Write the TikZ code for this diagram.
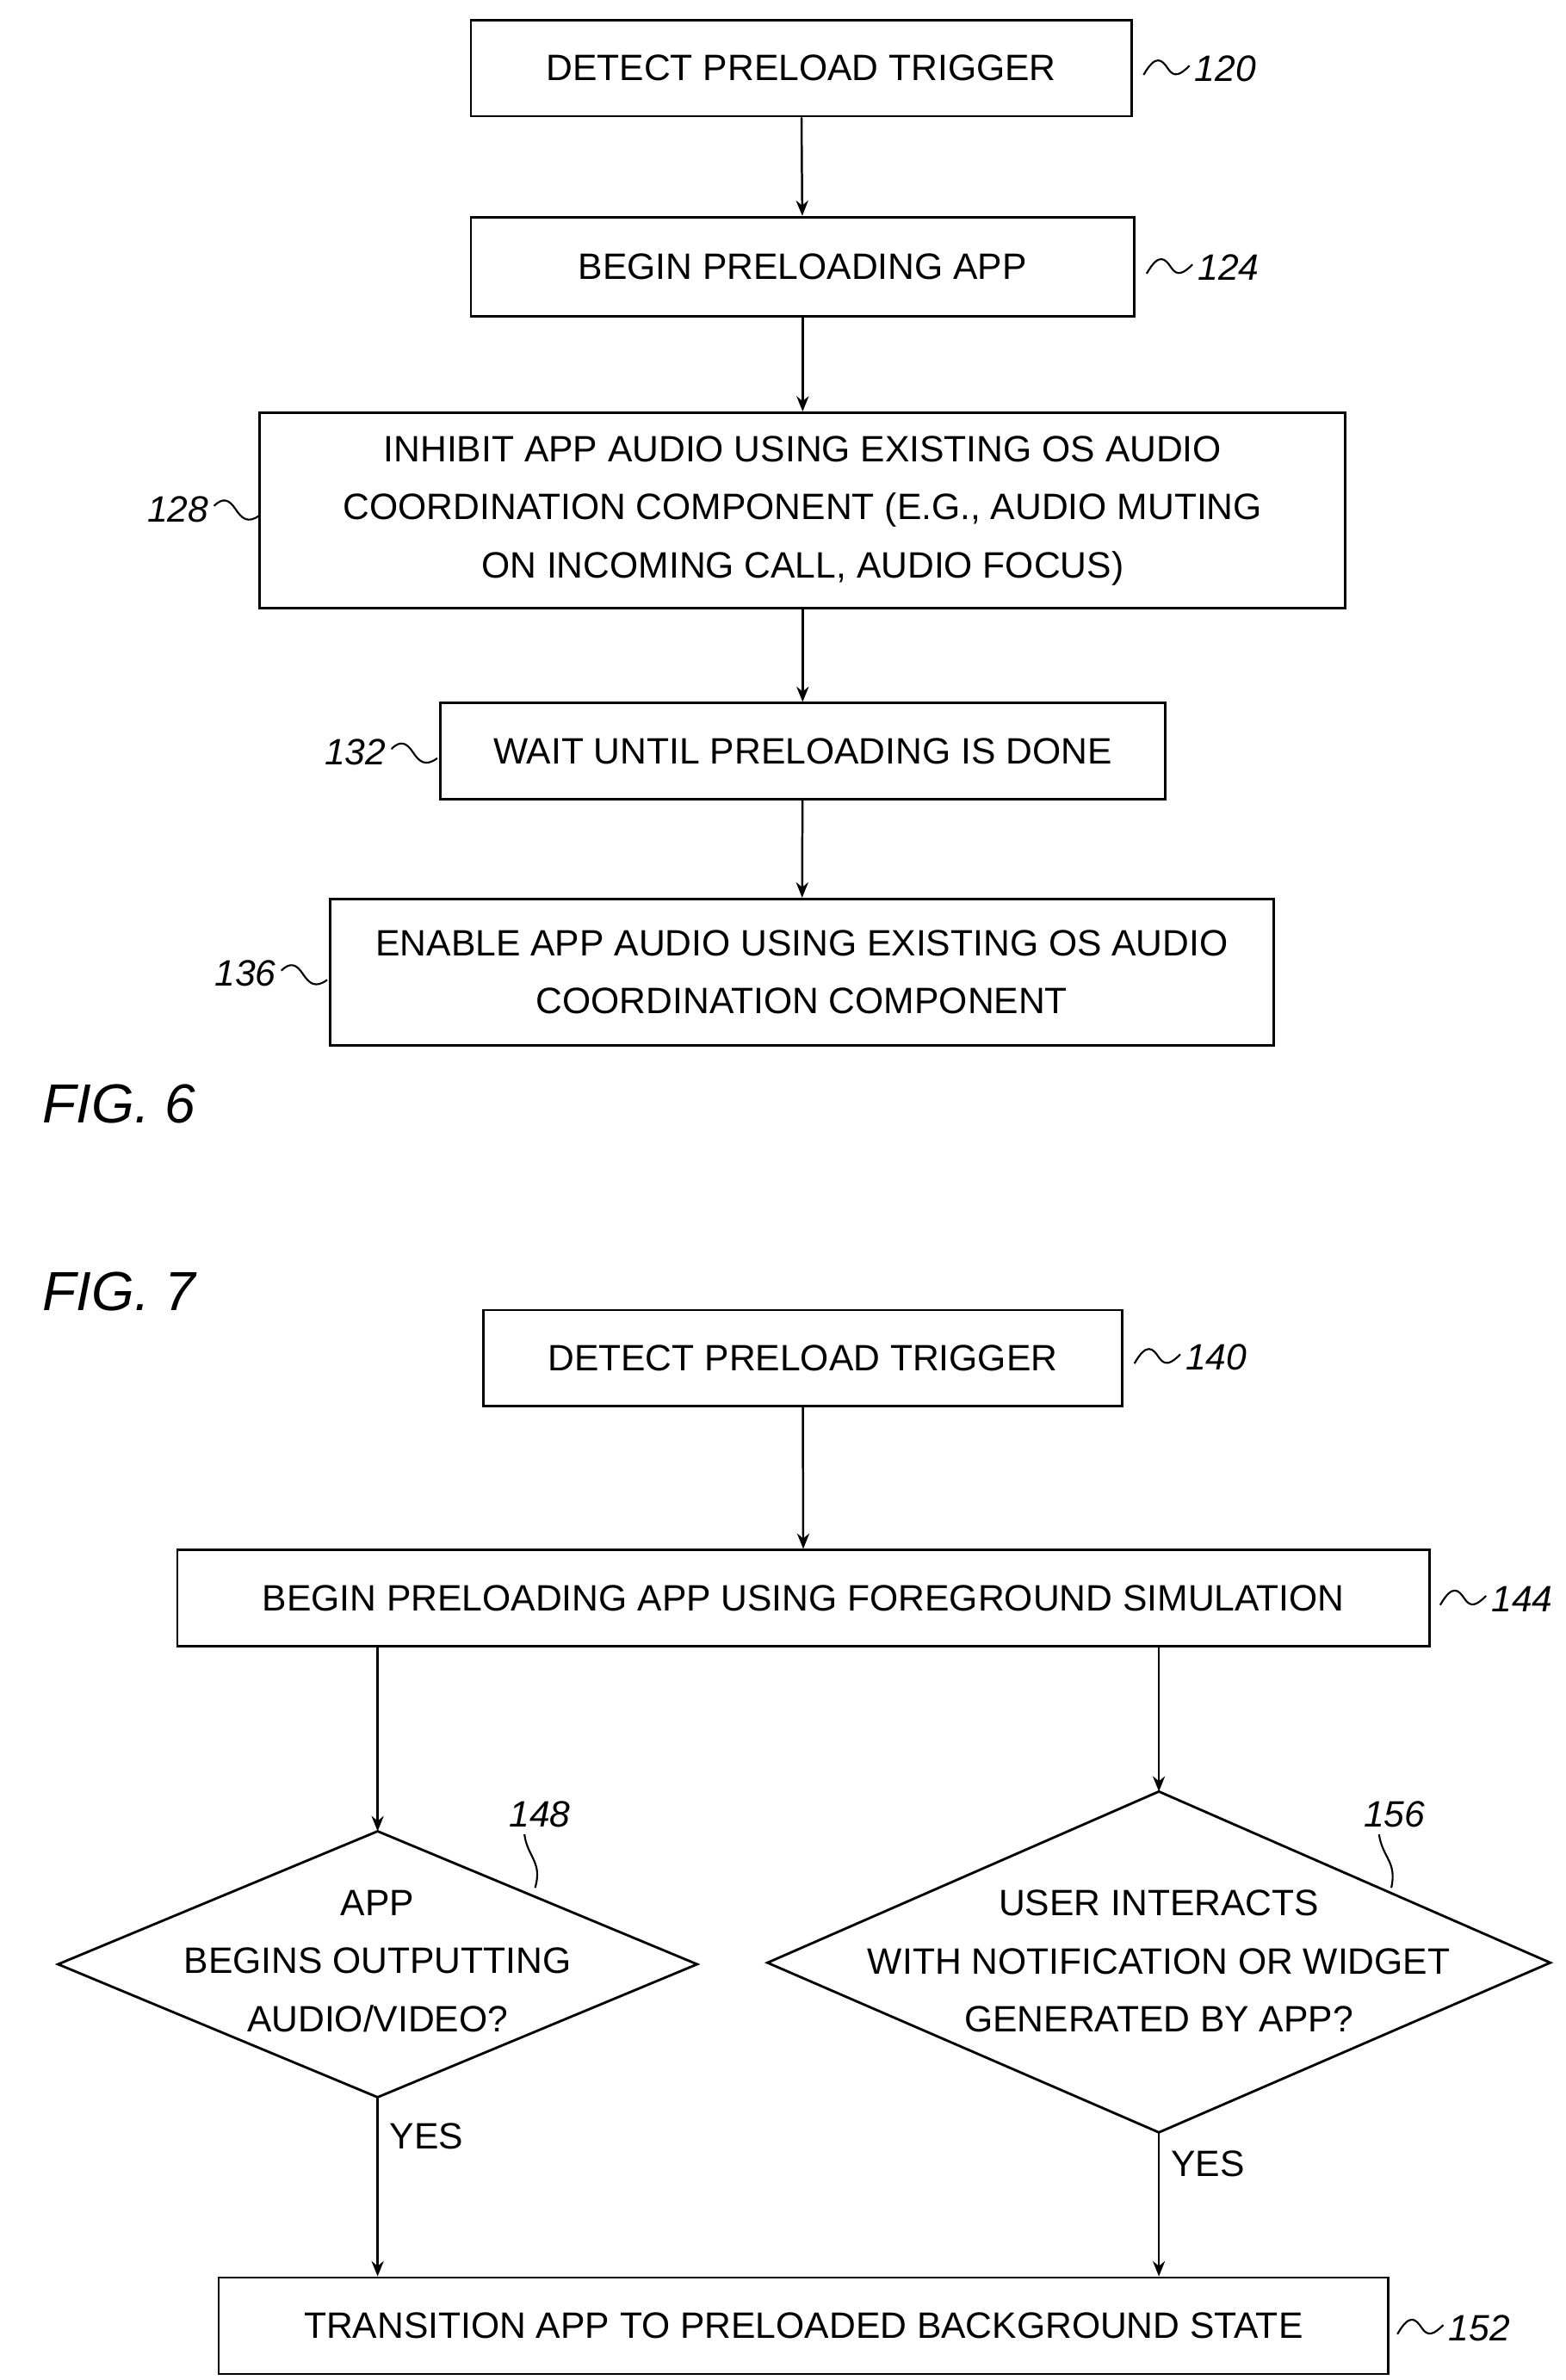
\documentclass[tikz,border=0pt]{standalone}
\usepackage{fontspec}
\setmainfont{Liberation Sans}
\usetikzlibrary{shapes.geometric,arrows.meta}
\begin{document}
\begin{tikzpicture}[x=1pt,y=-1pt,
  box/.style={draw,line width=1.6pt,inner sep=0pt,font=\fontsize{24}{38}\selectfont,align=center},
  dia/.style={draw,line width=1.6pt,diamond,inner sep=0pt,font=\fontsize{24}{38}\selectfont,align=center},
  lab/.style={font=\fontsize{24}{28}\selectfont\itshape},
  arr/.style={line width=1.4pt,-{Stealth[length=10pt,width=8pt]}},
  sq/.style={line width=1.2pt}]
\useasboundingbox (0,0) rectangle (1024,1557);
\def\bx#1#2#3#4#5#6{\node[box,minimum width=#4-#2,minimum height=#5-#3] (#1) at ({(#2+#4)/2},{(#3+#5)/2}) {#6};}
\bx{b120}{308}{13}{740}{76}{DETECT PRELOAD TRIGGER}
\bx{b124}{308}{142}{742}{207}{BEGIN PRELOADING APP}
\bx{b128}{170}{270}{880}{398}{INHIBIT APP AUDIO USING EXISTING OS AUDIO\\COORDINATION COMPONENT (E.G., AUDIO MUTING\\ON INCOMING CALL, AUDIO FOCUS)}
\bx{b132}{288}{460}{762}{523}{WAIT UNTIL PRELOADING IS DONE}
\bx{b136}{216}{588}{833}{684}{ENABLE APP AUDIO USING EXISTING OS AUDIO\\COORDINATION COMPONENT}
\bx{b140}{316}{857}{734}{920}{DETECT PRELOAD TRIGGER}
\bx{b144}{116}{1014}{935}{1077}{BEGIN PRELOADING APP USING FOREGROUND SIMULATION}
\bx{b152}{143}{1490}{908}{1553}{TRANSITION APP TO PRELOADED BACKGROUND STATE}
\node[draw,line width=1.6pt,inner sep=0pt,minimum size=0pt] (d148) at (247,1285) {};
\draw[line width=1.6pt] (38,1285) -- (247,1198) -- (456,1285) -- (247,1372) -- cycle;
\node[font=\fontsize{24}{38}\selectfont,align=center] (t148) at (247,1283) {APP\\BEGINS OUTPUTTING\\AUDIO/VIDEO?};
\draw[line width=1.6pt] (502,1284) -- (758,1172) -- (1014,1284) -- (758,1395) -- cycle;
\node[font=\fontsize{24}{38}\selectfont,align=center] (t156) at (758,1283) {USER INTERACTS\\WITH NOTIFICATION OR WIDGET\\GENERATED BY APP?};
\coordinate (d148t) at (247,1198); \coordinate (d148b) at (247,1372);
\coordinate (d156t) at (758,1172); \coordinate (d156b) at (758,1395);
\draw[arr] (b120) -- (b124);
\draw[arr] (b124) -- (b128);
\draw[arr] (b128) -- (b132);
\draw[arr] (b132) -- (b136);
\draw[arr] (b140) -- (b144);
\draw[arr] (b144.south -| d148t) -- (d148t);
\draw[arr] (b144.south -| d156t) -- (d156t);
\draw[arr] (d148b) -- (b152.north -| d148b) node[pos=0.22,right,font=\fontsize{24}{28}\selectfont,xshift=4pt] (y1) {YES};
\draw[arr] (d156b) -- (b152.north -| d156b) node[pos=0.22,right,font=\fontsize{24}{28}\selectfont,xshift=4pt] (y2) {YES};
% reference labels
\def\rr#1#2#3{\node[lab,anchor=west] (l#3) at (#1+30,#2) {#3};
  \draw[sq] (#1,#2+4) .. controls (#1+8,#2-10) and (#1+12,#2-6) .. (#1+16,#2) .. controls (#1+20,#2+6) and (#1+24,#2+4) .. (#1+30,#2-2);}
\def\rl#1#2#3{\node[lab,anchor=east] (l#3) at (#1-30,#2) {#3};
  \draw[sq] (#1-30,#2-2) .. controls (#1-24,#2-8) and (#1-20,#2-6) .. (#1-16,#2) .. controls (#1-12,#2+6) and (#1-8,#2+10) .. (#1,#2+4);}
\rr{748}{45}{120}
\rr{750}{175}{124}
\rl{170}{333}{128}
\rl{286}{492}{132}
\rl{214}{637}{136}
\rr{742}{888}{140}
\rr{942}{1046}{144}
\rr{914}{1523}{152}
\node[lab] (l148) at (353,1187) {148};
\draw[sq] (343,1200) .. controls (345,1215) and (355,1218) .. (350,1235);
\node[lab] (l156) at (912,1187) {156};
\draw[sq] (902,1200) .. controls (904,1215) and (914,1218) .. (910,1235);
\node[font=\fontsize{36}{40}\selectfont\itshape\addfontfeature{FakeSlant=0}] (f6) at (78,722) {FIG. 6};
\node[font=\fontsize{36}{40}\selectfont\itshape] (f7) at (78,845) {FIG. 7};
\end{tikzpicture}
\end{document}
